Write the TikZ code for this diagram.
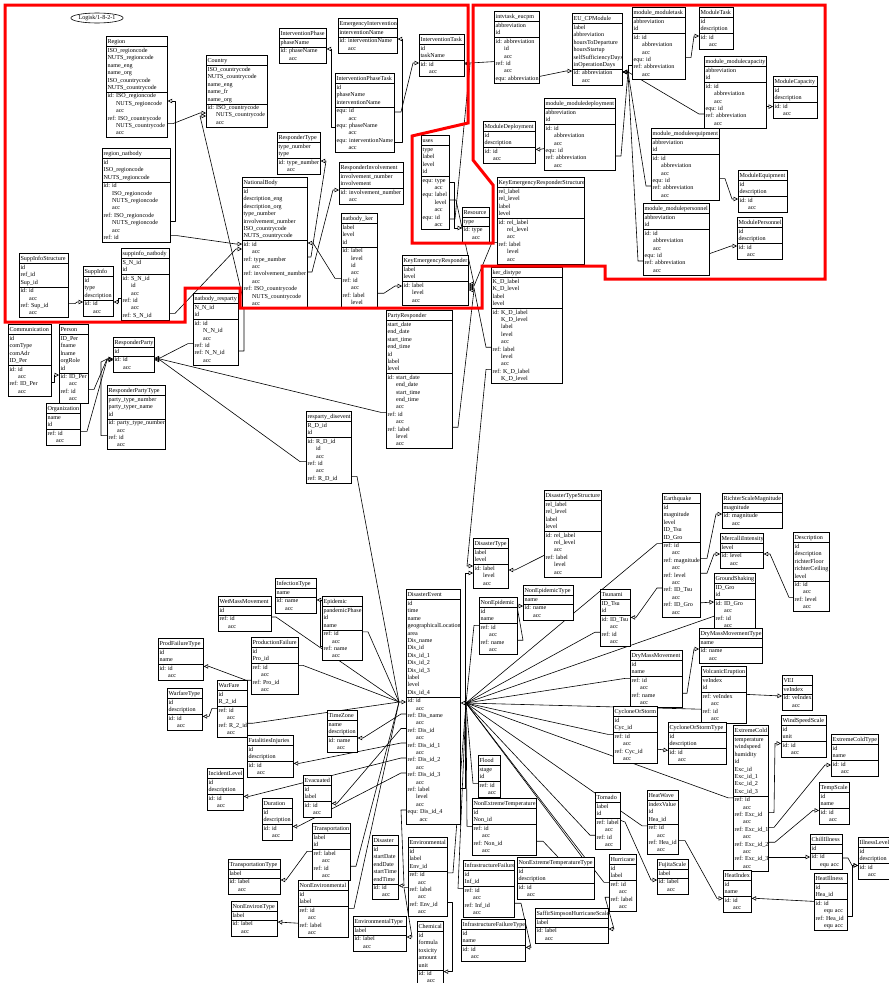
\documentclass[tikz,border=0pt]{standalone}
\usepackage{fontspec}
\setmainfont{Liberation Serif}
\usetikzlibrary{shapes.multipart,shapes.geometric,arrows.meta}
\pgfdeclarelayer{bg}
\pgfsetlayers{bg,main}
\newcommand\tbfont{\fontsize{6.1}{7.4}\selectfont\hyphenpenalty=10000\exhyphenpenalty=10000}
\newcommand\Q{\mbox{}\kern8.5pt}
\newcommand\QQ{\mbox{}\kern12pt}
\tikzset{
 tbl/.style={rectangle split, rectangle split parts=3, draw, fill=white, line width=0.7pt, anchor=north west, inner xsep=1.2pt, inner ysep=0.2pt, align=left, font=\tbfont},
 cn/.style={line width=0.6pt, line join=round},
 ar/.style={cn, -{Triangle[open,length=4.5pt,width=4.5pt]}},
 outline/.style={red, line width=3pt}
}
\newcommand\ent[7]{\pgfmathsetmacro\entw{#4-2.4}\node[tbl,text width=\entw pt] (#1) at (#2,#3) {\centering\rule[-2.6pt]{0pt}{9.3pt}#5\nodepart{two}\strut#6\strut\nodepart{three}\strut#7\strut};}
\begin{document}
\begin{tikzpicture}[x=1pt,y=-1pt]
\useasboundingbox (0,0) rectangle (889,983);
\begin{pgfonlayer}{bg}
\fill[white] (0,0) rectangle (889,983);
\end{pgfonlayer}
\node[draw, ellipse, line width=0.6pt, inner sep=0pt, minimum width=44pt, minimum height=10pt, font=\tbfont] (logo) at (97,18) {Logisk/1-8-2-1};
% ---- top left
\ent{region}{106}{36}{61}{Region}{ISO\_regioncode\\NUTS\_regioncode\\name\_eng\\name\_org\\ISO\_countrycode\\NUTS\_countrycode}{id:~ISO\_regioncode\\\Q NUTS\_regioncode\\\Q acc\\ref:~ISO\_countrycode\\\Q NUTS\_countrycode\\\Q acc}
\ent{country}{206}{55}{61}{Country}{ISO\_countrycode\\NUTS\_countrycode\\name\_eng\\name\_fr\\name\_org}{id:~ISO\_countrycode\\\Q NUTS\_countrycode\\\Q acc}
\ent{regionnat}{102}{148}{68}{region\_natbody}{id\\ISO\_regioncode\\NUTS\_regioncode}{id:~id\\\Q ISO\_regioncode\\\Q NUTS\_regioncode\\\Q acc\\ref:~ISO\_regioncode\\\Q NUTS\_regioncode\\\Q acc\\ref:~id}
\ent{natbody}{242}{177}{65}{NationalBody}{id\\description\_eng\\description\_org\\type\_number\\involvement\_number\\ISO\_countrycode\\NUTS\_countrycode}{id:~id\\\Q acc\\ref:~type\_number\\\Q acc\\ref:~involvement\_number\\\Q acc\\ref:~ISO\_countrycode\\\Q NUTS\_countrycode\\\Q acc}
\ent{intphase}{279}{28}{47}{InterventionPhase}{phaseName}{id:~phaseName\\\Q acc}
\ent{emergint}{338}{18}{59}{EmergencyIntervention}{interventionName}{id:~interventionName\\\Q acc}
\ent{inttask}{419}{34}{45}{InterventionTask}{id\\taskName}{id:~id\\\Q acc}
\ent{ipt}{335}{73}{59}{InterventionPhaseTask}{id\\phaseName\\interventionName}{equ:~id\\\QQ acc\\equ:~phaseName\\\QQ acc\\equ:~interventionName\\\QQ acc}
\ent{resptype}{277}{132}{43}{ResponderType}{type\_number\\type}{id:~type\_number\\\Q acc}
\ent{respinv}{339}{162}{64}{ResponderInvolvement}{involvement\_number\\involvement}{id:~involvement\_number\\\Q acc}
\ent{natker}{341}{213}{36}{natbody\_ker}{label\\level\\id}{id:~label\\\Q level\\\Q id\\\Q acc\\ref:~id\\\Q acc\\ref:~label\\\Q level}
\ent{uses}{421}{135}{28}{uses}{type\\label\\level\\id}{equ:~type\\\QQ acc\\equ:~label\\\QQ level\\\QQ acc\\equ:~id\\\QQ acc}
\ent{resource}{462}{207}{27}{Resource}{type}{id:~type\\\Q acc}
\ent{intvtask}{494}{11}{45}{intvtask\_eucpm}{abbreviation\\id}{id:~abbreviation\\\Q id\\\Q acc\\ref:~id\\\Q acc\\equ:~abbreviation}
\ent{eucpm}{572}{13}{50}{EU\_CPModule}{label\\abbreviation\\hoursToDeparture\\hoursStartup\\selfSufficiencyDays\\inOperationDays}{id:~abbreviation\\\Q acc}
\ent{mmtask}{632}{7}{53}{module\_moduletask}{abbreviation\\id}{id:~id\\\Q abbreviation\\\Q acc\\equ:~id\\ref:~abbreviation\\\Q acc}
\ent{modtask}{699}{7}{34}{ModuleTask}{id\\description}{id:~id\\\Q acc}
\ent{mmcap}{704}{56}{62}{module\_modulecapacity}{abbreviation\\id}{id:~id\\\Q abbreviation\\\Q acc\\equ:~id\\ref:~abbreviation\\\Q acc}
\ent{modcap}{773}{76}{44}{ModuleCapacity}{id\\description}{id:~id\\\Q acc}
\ent{mmequip}{651}{128}{68}{module\_moduleequipment}{abbreviation\\id}{id:~id\\\Q abbreviation\\\Q acc\\equ:~id\\ref:~abbreviation\\\Q acc}
\ent{modequip}{738}{170}{49}{ModuleEquipment}{id\\description}{id:~id\\\Q acc}
\ent{mmpers}{643}{203}{66}{module\_modulepersonnel}{abbreviation\\id}{id:~id\\\Q abbreviation\\\Q acc\\equ:~id\\ref:~abbreviation\\\Q acc}
\ent{modpers}{737}{217}{45}{ModulePersonnel}{id\\description}{id:~id\\\Q acc}
\ent{moddeploy}{483}{121}{52}{ModuleDeployment}{id\\description}{id:~id\\\Q acc}
\ent{mmdeploy}{544}{98}{71}{module\_moduledeployment}{abbreviation\\id}{id:~id\\\Q abbreviation\\\Q acc\\equ:~id\\ref:~abbreviation\\\Q acc}
\ent{kers}{497}{177}{87}{KeyEmergencyResponderStructure}{rel\_label\\rel\_level\\label\\level}{id:~rel\_label\\\Q rel\_level\\\Q acc\\ref:~label\\\Q level\\\Q acc}
\ent{suppstruct}{19}{253}{49}{SuppInfoStructure}{id\\ref\_id\\Sup\_id}{id:~id\\\Q acc\\ref:~Sup\_id\\\Q acc}
\ent{suppinfo}{83}{266}{30}{SuppInfo}{id\\type\\description}{id:~id\\\Q acc}
\ent{suppnat}{121}{248}{48}{suppinfo\_natbody}{S\_N\_id\\id}{id:~S\_N\_id\\\Q id\\\Q acc\\ref:~id\\\Q acc\\ref:~S\_N\_id}
\ent{natresp}{193}{293}{45}{natbody\_resparty}{N\_N\_id\\id}{id:~id\\\Q N\_N\_id\\\Q acc\\ref:~id\\ref:~N\_N\_id\\\Q acc}
\ent{comm}{8}{324}{43}{Communication}{id\\comType\\comAdr\\ID\_Per}{id:~id\\\Q acc\\ref:~ID\_Per\\\Q acc}
\ent{person}{59}{324}{29}{Person}{ID\_Per\\fname\\lname\\orgRole\\id}{id:~ID\_Per\\\Q acc\\ref:~id\\\Q acc}
\ent{respparty}{113}{337}{41}{ResponderParty}{id}{id:~id\\\Q acc}
\ent{resppt}{107}{385}{58}{ResponderPartyType}{party\_type\_number\\party\_typer\_name\\id}{id:~party\_type\_number\\\Q acc\\ref:~id\\\Q acc}
\ent{org}{46}{403}{34}{Organization}{name\\id}{ref:~id\\\Q acc}
\ent{ker}{402}{255}{66}{KeyEmergencyResponder}{label\\level}{id:~label\\\Q level\\\Q acc}
\ent{partyresp}{386}{310}{66}{PartyResponder}{start\_date\\end\_date\\start\_time\\end\_time\\id\\label\\level}{id:~start\_date\\\Q end\_date\\\Q start\_time\\\Q end\_time\\\Q acc\\ref:~id\\\Q acc\\ref:~label\\\Q level\\\Q acc}
\ent{kerdis}{491}{267}{71}{ker\_distype}{K\_D\_label\\K\_D\_level\\label\\level}{id:~K\_D\_label\\\Q K\_D\_level\\\Q label\\\Q level\\\Q acc\\ref:~label\\\Q level\\\Q acc\\ref:~K\_D\_label\\\Q K\_D\_level}
\ent{respdis}{306}{411}{45}{resparty\_disevent}{R\_D\_id\\id}{id:~R\_D\_id\\\Q id\\\Q acc\\ref:~id\\\Q acc\\ref:~R\_D\_id}
% ---- lower part
\ent{dts}{544}{490}{57}{DisasterTypeStructure}{rel\_label\\rel\_level\\label\\level}{id:~rel\_label\\\Q rel\_level\\\Q acc\\ref:~label\\\Q level\\\Q acc}
\ent{distype}{473}{538}{35}{DisasterType}{label\\level}{id:~label\\\Q level\\\Q acc}
\ent{nonepi}{479}{597}{38}{NonEpidemic}{id\\name}{ref:~id\\\Q acc\\ref:~name\\\Q acc}
\ent{nonepitype}{523}{585}{50}{NonEpidemicType}{name}{id:~name\\\Q acc}
\ent{disevent}{406}{589}{54}{DisasterEvent}{id\\time\\name\\geographicalLocation\\area\\Dis\_name\\Dis\_id\\Dis\_id\_1\\Dis\_id\_2\\Dis\_id\_3\\label\\level\\Dis\_id\_4}{id:~id\\\Q acc\\ref:~Dis\_name\\\Q acc\\ref:~Dis\_id\\\Q acc\\ref:~Dis\_id\_1\\\Q acc\\ref:~Dis\_id\_2\\\Q acc\\ref:~Dis\_id\_3\\\Q acc\\ref:~label\\\Q level\\\Q acc\\equ:~Dis\_id\_4\\\QQ acc}
\ent{epidemic}{322}{596}{40}{Epidemic}{pandemicPhase\\id\\name}{ref:~id\\\Q acc\\ref:~name\\\Q acc}
\ent{infection}{275}{578}{41}{InfectionType}{name}{id:~name\\\Q acc}
\ent{wetmass}{218}{596}{53}{WetMassMovement}{id}{ref:~id\\\Q acc}
\ent{prodfailtype}{158}{638}{45}{ProdFailureType}{id\\name}{id:~id\\\Q acc}
\ent{prodfail}{251}{637}{47}{ProductionFailure}{id\\Pro\_id}{ref:~id\\\Q acc\\ref:~Pro\_id\\\Q acc}
\ent{warfare}{217}{680}{30}{WarFare}{id\\R\_2\_id}{ref:~id\\\Q acc\\ref:~R\_2\_id\\\Q acc}
\ent{warfaretype}{167}{688}{35}{WarfareType}{id\\description}{id:~id\\\Q acc}
\ent{fatal}{247}{735}{46}{FatalitiesInjuries}{id\\description}{id:~id\\\Q acc}
\ent{timezone}{327}{710}{30}{TimeZone}{name\\description}{id:~name\\\Q acc}
\ent{incident}{207}{768}{36}{IncidentLevel}{id\\description}{id:~id\\\Q acc}
\ent{duration}{262}{798}{30}{Duration}{id\\description}{id:~id\\\Q acc}
\ent{evacuated}{303}{775}{28}{Evacuated}{id\\label}{id:~id\\\Q acc}
\ent{transport}{312}{823}{38}{Transportation}{label\\id}{ref:~label\\\Q acc\\ref:~id\\\Q acc}
\ent{transtype}{228}{859}{52}{TransportationType}{label}{id:~label\\\Q acc}
\ent{nonenv}{298}{880}{50}{NonEnvironmental}{id\\label}{ref:~id\\\Q acc\\ref:~label\\\Q acc}
\ent{nonenvtype}{231}{901}{46}{NonEnvironType}{label}{id:~label\\\Q acc}
\ent{disaster}{372}{835}{26}{Disaster}{id\\startDate\\endDate\\startTime\\endTime}{id:~id\\\Q acc}
\ent{environmental}{408}{837}{39}{Environmental}{id\\label\\Env\_id}{ref:~id\\\Q acc\\ref:~label\\\Q acc\\ref:~Env\_id\\\Q acc}
\ent{envtype}{353}{916}{53}{EnvironmentalType}{label}{id:~label\\\Q acc}
\ent{chemical}{417}{921}{26}{Chemical}{id\\formula\\toxicity\\amount\\unit}{id:~id\\\Q acc}
\ent{flood}{478}{755}{22}{Flood}{stage\\id}{ref:~id\\\Q acc}
\ent{nonext}{472}{798}{64}{NonExtremeTemperature}{id\\Non\_id}{ref:~id\\\Q acc\\ref:~Non\_id\\\Q acc}
\ent{nonexttype}{517}{857}{77}{NonExtremeTemperatureType}{id\\description}{id:~id\\\Q acc}
\ent{infrafail}{463}{860}{51}{InfrastructureFailure}{id\\Inf\_id}{ref:~id\\\Q acc\\ref:~Inf\_id\\\Q acc}
\ent{infrafailtype}{461}{919}{64}{InfrastructureFailureType}{id\\name}{id:~id\\\Q acc}
\ent{saffir}{535}{908}{73}{SaffirSimpsonHurricaneScale}{label}{id:~label\\\Q acc}
\ent{earthquake}{662}{493}{38}{Earthquake}{id\\magnitude\\level\\ID\_Tsu\\ID\_Gro}{ref:~id\\\Q acc\\ref:~magnitude\\\Q acc\\ref:~level\\\Q acc\\ref:~ID\_Tsu\\\Q acc\\ref:~ID\_Gro\\\Q acc}
\ent{richter}{722}{493}{60}{RichterScaleMagnitude}{magnitude}{id:~magnitude\\\Q acc}
\ent{mercalli}{720}{533}{43}{MercalliIntensity}{level}{id:~level\\\Q acc}
\ent{description}{793}{532}{36}{Description}{id\\description\\richterFloor\\richterCeiling\\level}{id:~id\\\Q acc\\ref:~level\\\Q acc}
\ent{groundshake}{714}{573}{41}{GroundShaking}{ID\_Gro\\id}{id:~ID\_Gro\\\Q acc\\ref:~id\\\Q acc}
\ent{tsunami}{600}{589}{30}{Tsunami}{ID\_Tsu\\id}{id:~ID\_Tsu\\\Q acc\\ref:~id\\\Q acc}
\ent{drymasstype}{699}{628}{63}{DryMassMovementType}{name}{id:~name\\\Q acc}
\ent{drymass}{630}{650}{52}{DryMassMovement}{id\\name}{ref:~id\\\Q acc\\ref:~name\\\Q acc}
\ent{volcanic}{701}{666}{45}{VolcanicEruption}{veIndex\\id}{ref:~veIndex\\\Q acc\\ref:~id\\\Q acc}
\ent{vei}{782}{675}{30}{VEI}{veIndex}{id:~veIndex\\\Q acc}
\ent{cyclone}{613}{706}{44}{CycloneOrStorm}{id\\Cyc\_id}{ref:~id\\\Q acc\\ref:~Cyc\_id\\\Q acc}
\ent{cyclonetype}{668}{722}{58}{CycloneOrStormType}{id\\description}{id:~id\\\Q acc}
\ent{extcold}{733}{725}{35}{ExtremeCold}{temperature\\windspeed\\humidity\\id\\Exc\_id\\Exc\_id\_1\\Exc\_id\_2\\Exc\_id\_3}{ref:~id\\\Q acc\\ref:~Exc\_id\\\Q acc\\ref:~Exc\_id\_1\\\Q acc\\ref:~Exc\_id\_2\\\Q acc\\ref:~Exc\_id\_3\\\Q acc}
\ent{windspeed}{781}{715}{45}{WindSpeedScale}{id\\unit}{id:~id\\\Q acc}
\ent{extcoldtype}{831}{734}{47}{ExtremeColdType}{id\\name}{id:~id\\\Q acc}
\ent{tempscale}{819}{782}{30}{TempScale}{id\\name}{id:~id\\\Q acc}
\ent{chill}{810}{834}{32}{ChillIllness}{id}{id:~id\\\Q equ~acc}
\ent{illnesslevel}{858}{837}{31}{IllnessLevel}{id\\description}{id:~id\\\Q acc}
\ent{heatillness}{814}{873}{33}{HeatIllness}{id\\Hea\_id}{id:~id\\\Q equ~acc\\ref:~Hea\_id\\\Q equ~acc}
\ent{heatindex}{723}{870}{28}{HeatIndex}{id\\name}{id:~id\\\Q acc}
\ent{heatwave}{647}{790}{31}{HeatWave}{indexValue\\id\\Hea\_id}{ref:~id\\\Q acc\\ref:~Hea\_id\\\Q acc}
\ent{fujita}{657}{859}{31}{FujitaScale}{label}{id:~label\\\Q acc}
\ent{tornado}{595}{792}{25}{Tornado}{label\\id}{ref:~label\\\Q acc\\ref:~id\\\Q acc}
\ent{hurricane}{609}{854}{27}{Hurricane}{id\\label}{ref:~id\\\Q acc\\ref:~label\\\Q acc}
% ---- connectors
\begin{pgfonlayer}{bg}
\draw[ar] (region.east |- 0,123.6) -- (173,123.6) -- (200,113) -- (country.west |- 0,113);
\draw[ar] (regionnat.east |- 0,220.8) -- (175,220.8) -- (175,101) -- (region.east |- 0,101);
\draw[ar] (regionnat.east |- 0,235.6) -- (177,235.6) -- (236,244) -- (natbody.west |- 0,244);
\draw[ar] (natresp.east |- 0,351) -- (244,351) -- (244,303) -- (200,116) -- (country.west |- 0,116);
\draw[ar] (suppnat.east |- 0,313.4) -- (175,313.4) -- (236,249) -- (natbody.west |- 0,249);
\draw[ar] (natbody.east |- 0,257) -- (311,257) -- (326,161) -- (resptype.east |- 0,161);
\draw[ar] (natbody.east |- 0,272) -- (312,272) -- (333,190) -- (respinv.west |- 0,190);
\draw[ar] (natker.west |- 0,278.4) -- (335,278.4) -- (313,243) -- (natbody.east |- 0,243);
\draw[ar] (natker.east |- 0,293.2) -- (384,293.2) -- (395,286) -- (ker.west |- 0,286);
\draw[ar] (natresp.west |- 0,343.6) -- (188,343.6) -- (160,358) -- (respparty.east |- 0,358);
\draw[ar] (partyresp.west |- 0,412.4) -- (381,412.4) -- (160,359) -- (respparty.east |- 0,359);
\draw[ar] (respdis.west |- 0,461.6) -- (300,461.6) -- (160,360) -- (respparty.east |- 0,360);
\draw[ar] (person.east |- 0,389.4) -- (94,389.4) -- (107,359) -- (respparty.west |- 0,359);
\draw[ar] (resppt.west |- 0,435.6) -- (101,435.6) -- (101,362) -- (107,359) -- (respparty.west |- 0,359);
\draw[ar] (org.east |- 0,431.4) -- (87,431.4) -- (107,360) -- (respparty.west |- 0,360);
\draw[ar] (comm.east |- 0,382) -- (54,382) -- (54,375) -- (person.west |- 0,375);
\draw[ar] (suppstruct.east |- 0,303.6) -- (75,303.6) -- (77,302) -- (suppinfo.west |- 0,302);
\draw[ar] (suppnat.west |- 0,298.6) -- (118,298.6) -- (118,302) -- (suppinfo.east |- 0,302);
\draw[ar] (ipt.west |- 0,127) -- (331,127) -- (331,49) -- (intphase.east |- 0,49);
\draw[ar] (ipt.east |- 0,142) -- (402,142) -- (402,39) -- (emergint.east |- 0,39);
\draw[ar] (ipt.east |- 0,112) -- (401,112) -- (413,63) -- (inttask.west |- 0,63);
\draw[ar] (intvtask.west |- 0,61.6) -- (470,63) -- (inttask.east |- 0,63);
\draw[ar] (intvtask.east |- 0,76.4) -- (566,71) -- (eucpm.west |- 0,71);
\draw[ar] (mmtask.west |- 0,65) -- (628,65) -- (628,72) -- (eucpm.east |- 0,72);
\draw[ar] (mmcap.west |- 0,114) -- (699,114) -- (628,72) -- (eucpm.east |- 0,72);
\draw[ar] (mmequip.west |- 0,186) -- (646,186) -- (628,72) -- (eucpm.east |- 0,72);
\draw[ar] (mmpers.west |- 0,261) -- (638,261) -- (628,72) -- (eucpm.east |- 0,72);
\draw[ar] (mmdeploy.east |- 0,156) -- (621,156) -- (628,72) -- (eucpm.east |- 0,72);
\draw[ar] (mmtask.east |- 0,57.6) -- (691,57.6) -- (694,36) -- (modtask.west |- 0,36);
\draw[ar] (mmcap.east |- 0,106.6) -- (modcap.west |- 0,106.6);
\draw[ar] (mmequip.east |- 0,178.6) -- (725,178.6) -- (732,199) -- (modequip.west |- 0,199);
\draw[ar] (mmpers.east |- 0,253.6) -- (731,246) -- (modpers.west |- 0,246);
\draw[ar] (mmdeploy.west |- 0,148.6) -- (540,149.4) -- (moddeploy.east |- 0,149.4);
\draw[ar] (uses.east |- 0,182) -- (454,182) -- (454,228) -- (resource.west |- 0,228);
\draw[ar] (uses.east |- 0,200) -- (456,200) -- (474,284) -- (ker.east |- 0,284);
\draw[ar] (uses.east |- 0,219) -- (455,219) -- (470,64) -- (inttask.east |- 0,64);
\draw[ar] (kers.west |- 0,242.4) -- (492,242.4) -- (474,286) -- (ker.east |- 0,286);
\draw[ar] (kerdis.west |- 0,347.2) -- (486,347.2) -- (474,288) -- (ker.east |- 0,288);
\draw[ar] (partyresp.east |- 0,427.2) -- (458,427.2) -- (474,290) -- (ker.east |- 0,290);
\draw[ar] (kerdis.west |- 0,369.4) -- (486,369.4) -- (467,566) -- (distype.west |- 0,566);
\draw[ar] (disevent.east |- 0,788) -- (465,788) -- (465,573) -- (distype.west |- 0,573);
\draw[ar] (dts.west |- 0,555.4) -- (515,570) -- (distype.east |- 0,570);
\draw[ar] (respdis.east |- 0,476.4) -- (357,476.4) -- (399,702) -- (disevent.west |- 0,702);
\draw[cn] (wetmass.east |- 0,617) -- (276,617) -- (399,702);
\draw[cn] (prodfail.east |- 0,665.4) -- (303,665.4) -- (399,702);
\draw[cn] (epidemic.east |- 0,631.8) -- (368,631.8) -- (399,702);
\draw[cn] (warfare.east |- 0,723.2) -- (253,723.2) -- (399,702);
\draw[cn] (transport.east |- 0,866.2) -- (356,866.2) -- (399,702);
\draw[cn] (nonenv.east |- 0,908.4) -- (354,908.4) -- (399,702);
\draw[ar] (prodfail.west |- 0,680.2) -- (246,680.2) -- (209,666.4) -- (prodfailtype.east |- 0,666.4);
\draw[ar] (warfare.west |- 0,708.4) -- (212,708.4) -- (209,716.4) -- (warfaretype.east |- 0,716.4);
\draw[ar] (epidemic.west |- 0,646.6) -- (320.5,646.6) -- (320.5,600) -- (infection.east |- 0,600);
\draw[ar] (disevent.west |- 0,714) -- (401,714) -- (363,738) -- (timezone.east |- 0,738);
\draw[ar] (disevent.west |- 0,728.5) -- (401,728.5) -- (337,803.4) -- (evacuated.east |- 0,803.4);
\draw[ar] (disevent.west |- 0,743) -- (401,743) -- (299,763.4) -- (fatal.east |- 0,763.4);
\draw[ar] (disevent.west |- 0,758) -- (401,758) -- (249,796.4) -- (incident.east |- 0,796.4);
\draw[ar] (disevent.west |- 0,773) -- (401,773) -- (298,826.4) -- (duration.east |- 0,826.4);
\draw[ar] (disevent.west |- 0,810) -- (401,810) -- (404,885.6) -- (disaster.east |- 0,885.6);
\draw[ar] (transport.west |- 0,851.4) -- (307,851.4) -- (286,880) -- (transtype.east |- 0,880);
\draw[ar] (nonenv.west |- 0,923.2) -- (nonenvtype.east |- 0,922);
\draw[ar] (environmental.west |- 0,887.6) -- (404,887.6) -- (412,937) -- (envtype.east |- 0,937);
\draw[cn] (environmental.east |- 0,872.8) -- (453,872.8) -- (466,703);
\draw[ar] (environmental.east |- 0,902.4) -- (452,902.4) -- (452,971.6) -- (chemical.east |- 0,971.6);
\draw[ar] (infrafail.east |- 0,903.2) -- (521,903.2) -- (531,947.4) -- (infrafailtype.east |- 0,947.4);
\draw[cn] (infrafail.west |- 0,888.4) -- (458,888.4) -- (466,703);
\draw[cn] (nonext.west |- 0,826.4) -- (467,826.4) -- (466,703);
\draw[cn] (nonext.east |- 0,841.2) -- (543,841.2) -- ([xshift=41pt]nonexttype.north west);
\draw[cn] (flood.west |- 0,783.4) -- (473,783.4) -- (466,703);
\draw[cn] (466,703) -- ([xshift=65pt]nonexttype.north west);
\draw[ar] (466,703) -- (disevent.east |- 0,703);
\draw[cn] (nonepi.west |- 0,625.4) -- (474,625.4) -- (466,703);
\draw[cn] (earthquake.west |- 0,543.6) -- (657,543.6) -- (466,703);
\draw[cn] (tsunami.west |- 0,632.2) -- (595,632.2) -- (466,703);
\draw[cn] (groundshake.west |- 0,616.2) -- (466,703);
\draw[cn] (drymass.west |- 0,678.4) -- (625,678.4) -- (466,703);
\draw[cn] (volcanic.west |- 0,709.2) -- (466,703);
\draw[cn] (cyclone.west |- 0,734.4) -- (608,734.4) -- (466,703);
\draw[cn] (extcold.west |- 0,797.8) -- (728,797.8) -- (466,703);
\draw[cn] (tornado.west |- 0,835.2) -- (590,835.2) -- (466,703);
\draw[cn] (heatwave.west |- 0,825.8) -- (642,825.8) -- (466,703);
\draw[cn] (hurricane.west |- 0,882.4) -- (604,882.4) -- (466,703);
\draw[ar] (drymass.east |- 0,693.2) -- (687,693.2) -- (694,649) -- (drymasstype.west |- 0,649);
\draw[ar] (volcanic.east |- 0,694.4) -- (vei.west |- 0,696);
\draw[ar] (earthquake.east |- 0,558.4) -- (707,558.4) -- (716,514) -- (richter.west |- 0,514);
\draw[ar] (earthquake.east |- 0,573.2) -- (707,573.2) -- (714,554) -- (mercalli.west |- 0,554);
\draw[ar] (earthquake.east |- 0,602.8) -- (groundshake.west |- 0,602);
\draw[ar] (earthquake.west |- 0,588) -- (657,588) -- (636,617.4) -- (tsunami.east |- 0,617.4);
\draw[ar] (description.west |- 0,597.4) -- (789,597.4) -- (770,554) -- (mercalli.east |- 0,554);
\draw[ar] (cyclone.east |- 0,749.2) -- (cyclonetype.west |- 0,750.4);
\draw[ar] (extcold.east |- 0,812.6) -- (774,812.6) -- (775,743.4) -- (windspeed.west |- 0,743.4);
\draw[ar] (extcold.east |- 0,827.4) -- (774,827.4) -- (825,765) -- (extcoldtype.west |- 0,765);
\draw[ar] (extcold.east |- 0,842.2) -- (775,842.2) -- (813,810.4) -- (tempscale.west |- 0,810.4);
\draw[ar] (extcold.east |- 0,857) -- (chill.west |- 0,857);
\draw[ar] (chill.east |- 0,858) -- (848,858) -- (852,865.4) -- (illnesslevel.west |- 0,865.4);
\draw[ar] (heatillness.east |- 0,916.2) -- (852,916.2) -- (852,865.4) -- (illnesslevel.west |- 0,865.4);
\draw[ar] (heatillness.west |- 0,901.4) -- (757,898.4) -- (heatindex.east |- 0,898.4);
\draw[ar] (heatwave.east |- 0,840.6) -- (685,840.6) -- (717,898.4) -- (heatindex.west |- 0,898.4);
\draw[ar] (tornado.east |- 0,820.4) -- (625,822) -- (651,880) -- (fujita.west |- 0,880);
\draw[ar] (hurricane.west |- 0,897.2) -- (605,897.2) -- (614,929) -- (saffir.east |- 0,929);
\draw[ar] (nonepi.east |- 0,640.2) -- (523,640.2) -- (517,606) -- (nonepitype.west |- 0,606);
\end{pgfonlayer}
\draw[outline] (5,5) -- (468,5) -- (468,123) -- (412,136) -- (412,243) -- (493,243) -- (493,185) -- (473,160) -- (473,5) -- (825,5) -- (825,279) -- (605,279) -- (605,266) -- (482,266) -- (482,308) -- (240,308) -- (240,288) -- (185,288) -- (185,322) -- (5,322) -- cycle;
\end{tikzpicture}
\end{document}
